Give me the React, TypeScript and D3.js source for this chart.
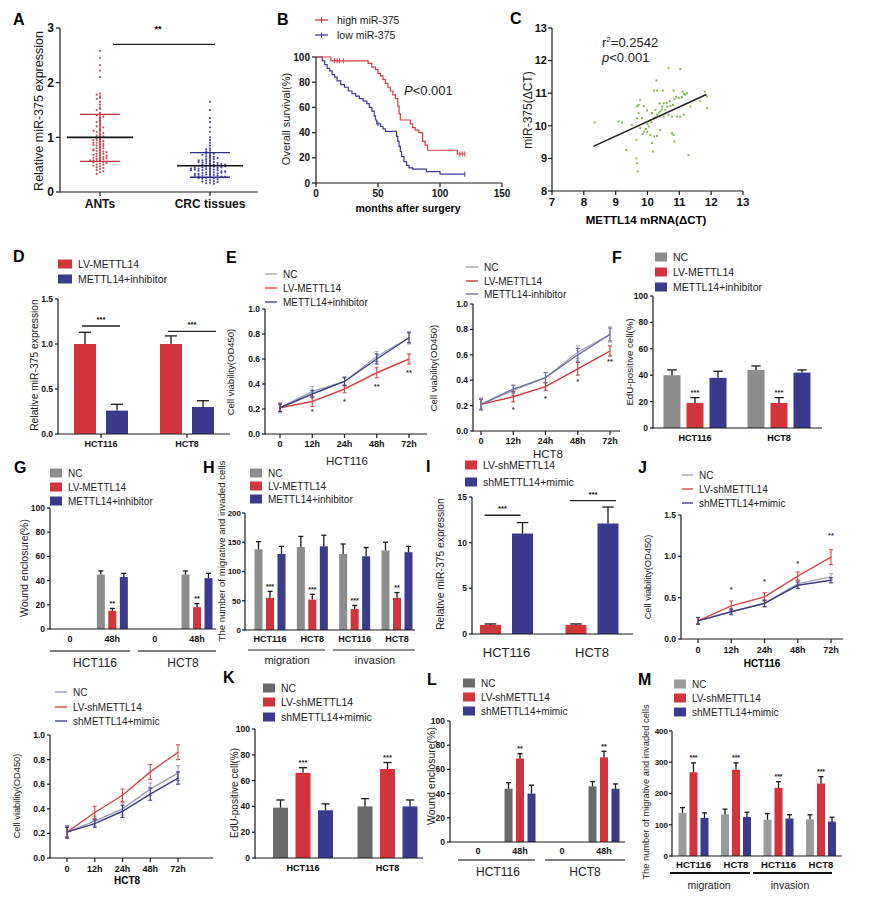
import React from 'react';
import * as d3 from 'd3';

const FONT = "'Liberation Sans', Arial, Helvetica, sans-serif";
const RED = '#d1353b';
const BLUE = '#3b3a8c';
const GRAY = '#8d8d8d';
const DGRAY = '#6b6a6a';
const MGRAY = '#9b9b9b';
const LINE_NC = '#a7a6bf';
const LINE_RED = '#dc4448';
const LINE_NAVY = '#3e4282';
const AX = '#1a1a1a';

// ---------- A ----------
const A_GROUPS = ['ANTs', 'CRC tissues'];
const A_ANTS = [2.58, 2.45, 2.32, 2.22, 2.1, 1.8, 1.78, 1.75, 1.72, 1.7, 1.65, 1.6, 1.55, 1.52, 1.5, 1.45, 1.42, 1.4, 1.38, 1.35, 1.3, 1.28, 1.25, 1.22, 1.2, 1.18, 1.15, 1.12, 1.1, 1.08, 1.05, 1.03, 1.0, 0.98, 0.97, 0.95, 0.93, 0.92, 0.9, 0.88, 0.87, 0.85, 0.84, 0.82, 0.8, 0.8, 0.78, 0.77, 0.75, 0.74, 0.72, 0.7, 0.7, 0.68, 0.67, 0.65, 0.64, 0.63, 0.62, 0.6, 0.6, 0.58, 0.57, 0.56, 0.55, 0.54, 0.53, 0.52, 0.5, 0.5, 0.48, 0.47, 0.45, 0.44, 0.42, 0.4, 0.38, 0.36, 0.33, 0.9, 0.86, 0.76, 0.66, 0.62, 1.02, 1.12, 0.95, 0.73, 0.58];
const A_CRC = [1.65, 1.5, 1.35, 1.28, 1.18, 1.1, 1.0, 0.95, 0.9, 0.85, 0.8, 0.78, 0.76, 0.74, 0.72, 0.7, 0.7, 0.68, 0.66, 0.65, 0.64, 0.62, 0.6, 0.6, 0.58, 0.57, 0.56, 0.55, 0.54, 0.53, 0.52, 0.52, 0.5, 0.5, 0.49, 0.48, 0.47, 0.46, 0.46, 0.45, 0.44, 0.43, 0.42, 0.42, 0.41, 0.4, 0.4, 0.39, 0.38, 0.37, 0.36, 0.36, 0.35, 0.34, 0.33, 0.32, 0.32, 0.31, 0.3, 0.3, 0.29, 0.28, 0.27, 0.26, 0.25, 0.24, 0.23, 0.22, 0.21, 0.2, 0.19, 0.18, 0.17, 0.16, 0.15, 0.62, 0.58, 0.55, 0.51, 0.48, 0.45, 0.44, 0.41, 0.38, 0.35, 0.33, 0.3, 0.28, 0.25, 0.5, 0.47, 0.43, 0.4, 0.37];
const A_MEAN = [1.0, 0.48];
const A_SD_HI = [1.42, 0.72];
const A_SD_LO = [0.56, 0.27];

// ---------- B ----------
const B_HIGH: [number, number][] = [[0, 100], [12, 97], [40, 97], [42, 95], [45, 92], [48, 90], [50, 87], [52, 85], [54, 82], [56, 79], [58, 76], [60, 73], [62, 70], [64, 67], [66, 61], [67, 55], [68, 50], [74, 50], [76, 47], [78, 44], [80, 42], [83, 40], [86, 33], [88, 30], [90, 26], [113, 26], [114, 23], [120, 23]];
const B_LOW: [number, number][] = [[0, 100], [5, 97], [7, 94], [9, 91], [11, 89], [13, 86], [15, 84], [17, 81], [20, 78], [23, 76], [26, 73], [29, 71], [32, 69], [35, 67], [38, 65], [41, 63], [43, 60], [45, 57], [47, 53], [48, 50], [49, 47], [52, 45], [54, 43], [56, 41], [64, 41], [65, 37], [66, 33], [67, 29], [68, 25], [69, 21], [71, 17], [73, 14], [75, 12], [78, 11], [88, 11], [89, 9], [99, 9], [100, 7], [120, 7]];
const B_HIGH_CENS: [number, number][] = [[15, 97], [17, 97], [19, 97], [22, 97], [116, 23], [118, 23], [120, 23]];
const B_LOW_CENS: [number, number][] = [[50, 47], [120, 7]];

// ---------- C ----------
const C_POINTS: [number, number][] = [[8.34, 10.1], [9.09, 10.13], [9.2, 10.1], [9.33, 9.26], [9.51, 10.03], [9.65, 9.57], [9.65, 9.0], [9.67, 8.85], [9.69, 8.6], [9.67, 10.23], [9.72, 10.64], [9.77, 10.8], [9.67, 10.6], [9.88, 10.6], [9.83, 10.23], [9.77, 9.93], [9.9, 9.82], [9.72, 10.39], [9.99, 9.82], [10.04, 9.98], [10.09, 9.72], [10.14, 9.47], [10.17, 9.21], [10.21, 9.67], [10.3, 9.69], [10.2, 10.23], [10.14, 10.39], [10.25, 10.49], [10.3, 10.34], [10.4, 10.44], [10.46, 10.59], [10.38, 10.69], [10.51, 10.69], [10.28, 11.39], [10.21, 11.08], [10.3, 11.08], [10.48, 11.08], [10.66, 11.77], [11.03, 11.74], [10.56, 10.49], [10.62, 10.59], [10.72, 10.61], [10.8, 10.64], [10.85, 10.82], [10.82, 11.08], [10.9, 10.89], [10.98, 10.85], [11.08, 10.88], [11.19, 10.95], [11.24, 11.0], [10.66, 10.34], [10.77, 10.28], [10.93, 10.28], [11.03, 10.28], [11.14, 10.34], [10.77, 9.77], [10.82, 9.72], [10.84, 9.52], [11.35, 10.59], [11.66, 10.75], [11.87, 10.9], [11.87, 10.54], [11.29, 9.1], [10.4, 9.87], [10.51, 10.28], [9.99, 10.47], [10.09, 10.18], [10.0, 10.05], [10.12, 10.12], [10.35, 10.4], [10.45, 10.5], [10.6, 10.7], [10.7, 10.75], [11.1, 11.05], [11.15, 10.98], [9.85, 9.75], [9.95, 9.9], [10.25, 10.25], [11.8, 11.05]];
const C_FIT = [5.65, 0.448]; // intercept, slope
const C_FIT_RANGE = [8.3, 11.85];

// ---------- D ----------
const D_GROUPS = ['HCT116', 'HCT8'];
const D_SERIES = ['LV-METTL14', 'METTL14+inhibitor'];
const D_MEANS = [[1.0, 1.0], [0.26, 0.3]];
const D_ERRS = [[0.13, 0.09], [0.07, 0.07]];
const D_SIG = [1.2, 1.14];

// ---------- E ----------
const TIMES = ['0', '12h', '24h', '48h', '72h'];
const E_SERIES_1 = ['NC', 'LV-METTL14', 'METTL14+inhibitor'];
const E_SERIES_2 = ['NC', 'LV-METTL14', 'METTL14-inhibitor'];
const E1_MEANS = [[0.21, 0.34, 0.42, 0.62, 0.77], [0.21, 0.26, 0.36, 0.49, 0.6], [0.21, 0.32, 0.42, 0.6, 0.77]];
const E1_ERRS = [[0.04, 0.04, 0.04, 0.04, 0.05], [0.03, 0.04, 0.03, 0.04, 0.04], [0.03, 0.03, 0.03, 0.04, 0.04]];
const E1_STARS = ['', '*', '*', '**', '**'];
const E1_STAR_AT = [0, 0.18, 0.265, 0.38, 0.49];
const E2_MEANS = [[0.21, 0.32, 0.42, 0.62, 0.76], [0.21, 0.27, 0.35, 0.49, 0.63], [0.21, 0.33, 0.42, 0.6, 0.76]];
const E2_ERRS = [[0.05, 0.04, 0.04, 0.05, 0.06], [0.04, 0.04, 0.03, 0.05, 0.04], [0.04, 0.03, 0.04, 0.05, 0.05]];
const E2_STARS = ['', '*', '*', '*', '**'];
const E2_STAR_AT = [0, 0.17, 0.26, 0.39, 0.55];

// ---------- F ----------
const F_SERIES = ['NC', 'LV-METTL14', 'METTL14+inhibitor'];
const F_MEANS = [[40, 44], [19, 19], [38, 42]];
const F_ERRS = [[4, 3], [4, 4], [5, 2]];
const F_STARS = ['***', '***'];

// ---------- G ----------
const G_CATS = ['0', '48h', '0', '48h'];
const G_CELLS = ['HCT116', 'HCT8'];
const G_MEANS = [[0, 45, 0, 45], [0, 15, 0, 18], [0, 43, 0, 42]];
const G_ERRS = [[0, 3, 0, 3], [0, 2, 0, 3], [0, 3, 0, 4]];
const G_STARS = ['', '**', '', '**'];

// ---------- H ----------
const H_CATS = ['HCT116', 'HCT8', 'HCT116', 'HCT8'];
const H_GROUPS = ['migration', 'invasion'];
const H_MEANS = [[138, 142, 130, 136], [55, 52, 36, 55], [130, 143, 126, 133]];
const H_ERRS = [[13, 18, 17, 14], [11, 9, 6, 9], [13, 19, 15, 10]];
const H_STARS = ['***', '***', '***', '**'];

// ---------- I ----------
const I_SERIES = ['LV-shMETTL14', 'shMETTL14+mimic'];
const I_MEANS = [[1.0, 1.0], [11.0, 12.1]];
const I_ERRS = [[0.1, 0.1], [1.2, 1.8]];
const I_SIG = [13.0, 14.6];

// ---------- J ----------
const J_SERIES = ['NC', 'LV-shMETTL14', 'shMETTL14+mimic'];
const J1_MEANS = [[0.22, 0.33, 0.43, 0.67, 0.75], [0.22, 0.4, 0.51, 0.76, 0.99], [0.22, 0.33, 0.43, 0.65, 0.71]];
const J1_ERRS = [[0.04, 0.04, 0.04, 0.04, 0.04], [0.04, 0.06, 0.05, 0.05, 0.09], [0.04, 0.03, 0.04, 0.04, 0.03]];
const J1_STARS = ['', '*', '*', '*', '**'];
const J1_STAR_AT = [0, 0.6, 0.7, 0.92, 1.25];
const J2_MEANS = [[0.21, 0.3, 0.4, 0.56, 0.69], [0.21, 0.37, 0.51, 0.7, 0.86], [0.21, 0.28, 0.38, 0.52, 0.65]];
const J2_ERRS = [[0.05, 0.04, 0.05, 0.05, 0.06], [0.05, 0.05, 0.05, 0.06, 0.06], [0.04, 0.03, 0.05, 0.05, 0.05]];

// ---------- K ----------
const K_SERIES = ['NC', 'LV-shMETTL14', 'shMETTL14+mimic'];
const K_MEANS = [[39, 40], [66, 69], [37, 40]];
const K_ERRS = [[6, 6], [4, 5], [5, 5]];
const K_STARS = ['***', '***'];

// ---------- L ----------
const L_MEANS = [[0, 44, 0, 46], [0, 69, 0, 70], [0, 40, 0, 44]];
const L_ERRS = [[0, 5, 0, 4], [0, 4, 0, 5], [0, 7, 0, 4]];
const L_STARS = ['', '**', '', '**'];

// ---------- M ----------
const M_MEANS = [[138, 133, 116, 117], [268, 276, 218, 232], [122, 125, 120, 110]];
const M_ERRS = [[17, 17, 20, 15], [30, 22, 20, 22], [16, 15, 12, 14]];
const M_STARS = ['***', '***', '***', '***'];

// ================= helpers =================
function Letter({ x, y, t }: any) {
  return <text x={x} y={y} fontSize={16} fontWeight="bold" fill="#000">{t}</text>;
}

function VLabel({ x, y, t, fs }: any) {
  return (
    <text transform={`translate(${x},${y}) rotate(-90)`} textAnchor="middle" dominantBaseline="central" fontSize={fs} fill="#222">{t}</text>
  );
}

function YAxis({ x, y, ticks, fmt, fs = 8.5, tl = 3, gap = 2 }: any) {
  const d = y.domain();
  return (
    <g>
      <line x1={x} x2={x} y1={y(d[0]) + 0.6} y2={y(d[1])} stroke={AX} strokeWidth={1.2} />
      {ticks.map((t: number) => (
        <g key={t}>
          <line x1={x - tl} x2={x} y1={y(t)} y2={y(t)} stroke={AX} strokeWidth={1.2} />
          <text x={x - tl - gap} y={y(t)} dy="0.35em" textAnchor="end" fontSize={fs} fontWeight="bold" fill="#111">{fmt(t)}</text>
        </g>
      ))}
    </g>
  );
}

function XAxis({ y0, x0, x1, xs, labels, fs = 9, dy = 12, bold = true, tick = 4 }: any) {
  return (
    <g>
      <line x1={x0} x2={x1} y1={y0} y2={y0} stroke={AX} strokeWidth={1.2} />
      {xs.map((xx: number, i: number) => (
        <g key={i}>
          {tick > 0 && <line x1={xx} x2={xx} y1={y0} y2={y0 + tick} stroke={AX} strokeWidth={1.2} />}
          {labels && <text x={xx} y={y0 + dy} textAnchor="middle" fontSize={fs} fontWeight={bold ? 'bold' : 'normal'} fill="#111">{labels[i]}</text>}
        </g>
      ))}
    </g>
  );
}

function Legend({ x, ys, labels, colors, kind, fs = 10, w = 12, h = 9 }: any) {
  return (
    <g>
      {labels.map((l: string, i: number) => (
        <g key={i}>
          {kind === 'rect'
            ? <rect x={x} y={ys[i] - h / 2} width={w} height={h} fill={colors[i]} />
            : <line x1={x} x2={x + w} y1={ys[i]} y2={ys[i]} stroke={colors[i]} strokeWidth={1.4} />}
          <text x={x + w + 6} y={ys[i]} dy="0.35em" fontSize={fs} fill="#222">{l}</text>
        </g>
      ))}
    </g>
  );
}

function BarSet({ cx, y, means, errs, colors, width, step, stars, starIdx = 1, starFs = 7.5 }: any) {
  const n = means.length;
  const pad = 1 - width / step;
  const inner = d3.scaleBand<number>().domain(d3.range(n)).range([-n * step / 2, n * step / 2]).paddingInner(pad).paddingOuter(pad / 2);
  const bw = inner.bandwidth();
  const out: any[] = [];
  means.forEach((ser: number[], s: number) => {
    ser.forEach((m: number, c: number) => {
      if (!m) return;
      const x0 = cx(c) + (inner(s) as number);
      const xm = x0 + bw / 2;
      const e = errs[s][c];
      const cap = Math.max(5, bw * 0.55);
      out.push(<rect key={`b${s}-${c}`} x={x0} y={y(m)} width={bw} height={y(0) - y(m)} fill={colors[s]} />);
      if (e) {
        out.push(<line key={`e${s}-${c}`} x1={xm} x2={xm} y1={y(m)} y2={y(m + e)} stroke={AX} strokeWidth={1.3} />);
        out.push(<line key={`c${s}-${c}`} x1={xm - cap / 2} x2={xm + cap / 2} y1={y(m + e)} y2={y(m + e)} stroke={AX} strokeWidth={1.3} />);
      }
      if (stars && s === starIdx && stars[c]) {
        out.push(<text key={`s${s}-${c}`} x={xm} y={y(m + e) - 2.5} textAnchor="middle" fontSize={starFs} fontWeight="bold" fill="#222">{stars[c]}</text>);
      }
    });
  });
  return <g>{out}</g>;
}

function barCenter(cx: any, n: number, step: number, s: number, c: number) {
  return cx(c) + (s - (n - 1) / 2) * step;
}

function LineSet({ x, y, means, errs, colors }: any) {
  const gen = d3.line<number>().x((_, i) => x(i)).y(d => y(d));
  return (
    <g>
      {means.map((ser: number[], s: number) => (
        <g key={s}>
          <path d={gen(ser) as string} fill="none" stroke={colors[s]} strokeWidth={1.4} />
          {ser.map((m: number, i: number) => {
            const e = errs[s][i];
            const xi = x(i);
            return (
              <g key={i}>
                <line x1={xi} x2={xi} y1={y(m - e)} y2={y(m + e)} stroke={colors[s]} strokeWidth={1.1} />
                <line x1={xi - 2} x2={xi + 2} y1={y(m + e)} y2={y(m + e)} stroke={colors[s]} strokeWidth={1.1} />
                <line x1={xi - 2} x2={xi + 2} y1={y(m - e)} y2={y(m - e)} stroke={colors[s]} strokeWidth={1.1} />
              </g>
            );
          })}
        </g>
      ))}
    </g>
  );
}

function Stars({ x, y, stars, at, fs = 8 }: any) {
  return (
    <g>
      {stars.map((s: string, i: number) => s ? <text key={i} x={x(i)} y={y(at[i])} dy="0.35em" textAnchor="middle" fontSize={fs} fontWeight="bold" fill="#333">{s}</text> : null)}
    </g>
  );
}

function swarm(vals: number[], bin: number, spacing: number) {
  const counts = new Map<number, number>();
  return vals.map(v => {
    const b = Math.round(v / bin);
    const k = counts.get(b) ?? 0;
    counts.set(b, k + 1);
    const off = k === 0 ? 0 : (k % 2 ? -1 : 1) * Math.ceil(k / 2) * spacing;
    return { v, off };
  });
}

const fmt1 = d3.format('.1f');
const fmtD = d3.format('d');

// ================= panels =================
function PanelA() {
  const y = d3.scaleLinear().domain([0, 3]).range([192, 28]);
  const x = d3.scalePoint<string>().domain(A_GROUPS).range([100, 210]);
  const sets = [A_ANTS, A_CRC];
  const spacings = [3.3, 3.8];
  const dotCols = ['#d0505a', '#4a4aa6'];
  const lineCols = ['#b8323e', '#2f2f86'];
  return (
    <g>
      <Letter x={13} y={25} t="A" />
      {sets.map((vals, gi) => swarm(vals, 0.05, spacings[gi]).map((p, i) => (
        <circle key={gi + '-' + i} cx={(x(A_GROUPS[gi]) as number) + p.off} cy={y(p.v)} r={1.1} fill={dotCols[gi]} />
      )))}
      {A_GROUPS.map((g, gi) => {
        const c = x(g) as number;
        return (
          <g key={g}>
            <line x1={c} x2={c} y1={y(A_SD_LO[gi])} y2={y(A_SD_HI[gi])} stroke={lineCols[gi]} strokeWidth={1.2} />
            <line x1={c - 20} x2={c + 20} y1={y(A_SD_HI[gi])} y2={y(A_SD_HI[gi])} stroke={lineCols[gi]} strokeWidth={1.4} />
            <line x1={c - 20} x2={c + 20} y1={y(A_SD_LO[gi])} y2={y(A_SD_LO[gi])} stroke={lineCols[gi]} strokeWidth={1.4} />
            <line x1={c - 33} x2={c + 33} y1={y(A_MEAN[gi])} y2={y(A_MEAN[gi])} stroke="#111" strokeWidth={1.6} />
          </g>
        );
      })}
      <YAxis x={60} y={y} ticks={[0, 1, 2, 3]} fmt={fmtD} fs={12} tl={4} gap={2} />
      <XAxis y0={192} x0={60} x1={258} xs={A_GROUPS.map(g => x(g))} labels={A_GROUPS} fs={12} dy={16} />
      <line x1={113} x2={215} y1={y(2.7)} y2={y(2.7)} stroke="#222" strokeWidth={1.4} />
      <text x={158} y={y(2.7) - 12} textAnchor="middle" fontSize={9} fontWeight="bold">**</text>
      <VLabel x={39} y={111} t="Relative miR-375 expression" fs={12.5} />
    </g>
  );
}

function PanelB() {
  const x = d3.scaleLinear().domain([0, 150]).range([316, 502]);
  const y = d3.scaleLinear().domain([0, 100]).range([183, 57]);
  const gen = d3.line<[number, number]>().x(d => x(d[0])).y(d => y(d[1])).curve(d3.curveStepAfter);
  const hc = '#d23b40';
  const lc = '#3e3d92';
  const cens = (pts: [number, number][], col: string) => pts.map((p, i) => (
    <line key={i} x1={x(p[0])} x2={x(p[0])} y1={y(p[1]) - 2.5} y2={y(p[1]) + 2.5} stroke={col} strokeWidth={1} />
  ));
  return (
    <g>
      <Letter x={277} y={25} t="B" />
      <g>
        <line x1={315} x2={328} y1={20} y2={20} stroke={hc} strokeWidth={1.3} />
        <line x1={321.5} x2={321.5} y1={17.5} y2={22.5} stroke={hc} strokeWidth={1} />
        <text x={337} y={20} dy="0.35em" fontSize={10.5} fill="#222">high miR-375</text>
        <line x1={315} x2={328} y1={35} y2={35} stroke={lc} strokeWidth={1.3} />
        <line x1={321.5} x2={321.5} y1={32.5} y2={37.5} stroke={lc} strokeWidth={1} />
        <text x={337} y={35} dy="0.35em" fontSize={10.5} fill="#222">low miR-375</text>
      </g>
      <path d={gen(B_LOW) as string} fill="none" stroke={lc} strokeWidth={1.2} />
      <path d={gen(B_HIGH) as string} fill="none" stroke={hc} strokeWidth={1.2} />
      {cens(B_HIGH_CENS, hc)}
      {cens(B_LOW_CENS, lc)}
      <YAxis x={316} y={y} ticks={[0, 20, 40, 60, 80, 100]} fmt={fmtD} fs={10} tl={4} />
      <XAxis y0={183} x0={316} x1={502} xs={[0, 50, 100, 150].map(v => x(v))} labels={['0', '50', '100', '150']} fs={10} dy={14} />
      <text x={408} y={212} textAnchor="middle" fontSize={10.5} fontWeight="bold">months after surgery</text>
      <VLabel x={286} y={119} t="Overall survival(%)" fs={11} />
      <text x={404} y={95} fontSize={13} fill="#222"><tspan fontStyle="italic">P</tspan>{'<0.001'}</text>
    </g>
  );
}

function PanelC() {
  const x = d3.scaleLinear().domain([7, 13]).range([552, 743]);
  const y = d3.scaleLinear().domain([8, 13]).range([191, 28]);
  const f = (v: number) => C_FIT[0] + C_FIT[1] * v;
  return (
    <g>
      <Letter x={510} y={24} t="C" />
      {C_POINTS.map((p, i) => (
        <rect key={i} x={x(p[0]) - 1} y={y(p[1]) - 1} width={2} height={2} fill="#86b856" />
      ))}
      <line x1={x(C_FIT_RANGE[0])} x2={x(C_FIT_RANGE[1])} y1={y(f(C_FIT_RANGE[0]))} y2={y(f(C_FIT_RANGE[1]))} stroke="#222" strokeWidth={1.6} />
      <YAxis x={552} y={y} ticks={[8, 9, 10, 11, 12, 13]} fmt={fmtD} fs={11} tl={4} gap={1} />
      <XAxis y0={191} x0={552} x1={743} xs={[7, 8, 9, 10, 11, 12, 13].map(v => x(v))} labels={['7', '8', '9', '10', '11', '12', '13']} fs={11.5} dy={15} />
      <text x={646} y={224} textAnchor="middle" fontSize={11.5} fontWeight="bold">METTL14 mRNA(ΔCT)</text>
      <VLabel x={528} y={110} t="miR-375(ΔCT)" fs={12} />
      <text x={602} y={47} fontSize={13} fill="#222">r<tspan dy={-5} fontSize={8}>2</tspan><tspan dy={5}>=0.2542</tspan></text>
      <text x={602} y={62} fontSize={13} fill="#222"><tspan fontStyle="italic">p</tspan>{'<0.001'}</text>
    </g>
  );
}

function PanelD() {
  const y = d3.scaleLinear().domain([0, 1.5]).range([434, 299]);
  const cx = d3.scalePoint<number>().domain([0, 1]).range([101, 187]);
  const step = 32;
  return (
    <g>
      <Letter x={13} y={262} t="D" />
      <Legend x={58} ys={[264, 279]} labels={D_SERIES} colors={[RED, BLUE]} kind="rect" fs={10.5} w={14} h={9} />
      <BarSet cx={cx} y={y} means={D_MEANS} errs={D_ERRS} colors={[RED, BLUE]} width={22} step={step} />
      {D_SIG.map((lv, c) => {
        const xa = barCenter(cx, 2, step, 0, c) - 3;
        const xb = barCenter(cx, 2, step, 1, c) + 3 + (c === 1 ? 10 : 0);
        return (
          <g key={c}>
            <line x1={xa} x2={xb} y1={y(lv)} y2={y(lv)} stroke="#222" strokeWidth={1.3} />
            <text x={(xa + xb) / 2} y={y(lv) - 4} textAnchor="middle" fontSize={7.5} fontWeight="bold">***</text>
          </g>
        );
      })}
      <YAxis x={58} y={y} ticks={[0, 0.5, 1, 1.5]} fmt={fmt1} />
      <XAxis y0={434} x0={58} x1={230} xs={[0, 1].map(i => cx(i))} labels={D_GROUPS} fs={9} dy={13} />
      <VLabel x={34} y={365} t="Relative miR-375 expression" fs={10.3} />
    </g>
  );
}

function PanelE() {
  const y1 = d3.scaleLinear().domain([0, 1]).range([434, 309]);
  const x1 = d3.scalePoint<number>().domain(d3.range(5)).range([280, 409]);
  const y2 = d3.scaleLinear().domain([0, 1]).range([431, 304]);
  const x2 = d3.scalePoint<number>().domain(d3.range(5)).range([481, 610]);
  const cols1 = [LINE_NC, LINE_RED, LINE_NAVY];
  const cols2 = ['#a9a9a9', '#c8383c', '#6f72a6'];
  return (
    <g>
      <Letter x={226} y={263} t="E" />
      <Legend x={265} ys={[274, 288, 302]} labels={E_SERIES_1} colors={cols1} kind="line" fs={10} w={12} />
      <LineSet x={x1} y={y1} means={E1_MEANS} errs={E1_ERRS} colors={cols1} />
      <Stars x={x1} y={y1} stars={E1_STARS} at={E1_STAR_AT} fs={7.5} />
      <YAxis x={265} y={y1} ticks={[0, 0.2, 0.4, 0.6, 0.8, 1]} fmt={fmt1} />
      <XAxis y0={434} x0={265} x1={427} xs={d3.range(5).map(i => x1(i))} labels={TIMES} fs={9} dy={13} />
      <text x={347} y={465} textAnchor="middle" fontSize={11.5} fill="#222">HCT116</text>
      <VLabel x={230} y={372} t="Cell viability(OD450)" fs={9.5} />

      <Legend x={466} ys={[267, 281, 294]} labels={E_SERIES_2} colors={cols2} kind="line" fs={10} w={12} />
      <LineSet x={x2} y={y2} means={E2_MEANS} errs={E2_ERRS} colors={cols2} />
      <Stars x={x2} y={y2} stars={E2_STARS} at={E2_STAR_AT} fs={7.5} />
      <YAxis x={473} y={y2} ticks={[0, 0.2, 0.4, 0.6, 0.8, 1]} fmt={fmt1} />
      <XAxis y0={431} x0={473} x1={620} xs={d3.range(5).map(i => x2(i))} labels={TIMES} fs={9} dy={13} />
      <text x={548} y={458} textAnchor="middle" fontSize={11.5} fill="#222">HCT8</text>
      <VLabel x={433} y={368} t="Cell viability(OD450)" fs={9.5} />
    </g>
  );
}

function PanelF() {
  const y = d3.scaleLinear().domain([0, 100]).range([428, 296]);
  const cx = d3.scalePoint<number>().domain([0, 1]).range([695, 779]);
  return (
    <g>
      <Letter x={612} y={263} t="F" />
      <Legend x={655} ys={[257, 272, 287]} labels={F_SERIES} colors={[GRAY, RED, BLUE]} kind="rect" fs={10.5} w={12} h={9} />
      <BarSet cx={cx} y={y} means={F_MEANS} errs={F_ERRS} colors={[GRAY, RED, BLUE]} width={17} step={23} stars={F_STARS} />
      <YAxis x={653} y={y} ticks={[0, 20, 40, 60, 80, 100]} fmt={fmtD} />
      <XAxis y0={428} x0={653} x1={822} xs={[]} labels={null} />
      {D_GROUPS.map((g, i) => <text key={g} x={cx(i)} y={441} textAnchor="middle" fontSize={9} fontWeight="bold">{g}</text>)}
      <VLabel x={629} y={362} t="EdU-positive cell(%)" fs={9.7} />
    </g>
  );
}

function PanelG() {
  const y = d3.scaleLinear().domain([0, 100]).range([629, 508]);
  const cx = d3.scalePoint<number>().domain(d3.range(4)).range([70, 197]);
  return (
    <g>
      <Letter x={14} y={473} t="G" />
      <Legend x={50} ys={[473, 487, 501]} labels={F_SERIES} colors={[GRAY, RED, BLUE]} kind="rect" fs={10} w={12} h={9} />
      <BarSet cx={cx} y={y} means={G_MEANS} errs={G_ERRS} colors={[GRAY, RED, BLUE]} width={8} step={11.5} stars={G_STARS} starFs={7} />
      <YAxis x={50} y={y} ticks={[0, 20, 40, 60, 80, 100]} fmt={fmtD} />
      <XAxis y0={629} x0={50} x1={216} xs={d3.range(4).map(i => cx(i))} labels={G_CATS} fs={9} dy={13} tick={0} />
      <line x1={50} x2={130} y1={651} y2={651} stroke="#555" strokeWidth={1.5} />
      <line x1={138} x2={216} y1={651} y2={651} stroke="#555" strokeWidth={1.5} />
      <text x={95} y={667} textAnchor="middle" fontSize={12} fill="#222">{G_CELLS[0]}</text>
      <text x={183} y={667} textAnchor="middle" fontSize={12} fill="#222">{G_CELLS[1]}</text>
      <VLabel x={24} y={568} t="Wound enclosure(%)" fs={10.5} />
    </g>
  );
}

function PanelH() {
  const y = d3.scaleLinear().domain([0, 200]).range([630, 513]);
  const cx = d3.scalePoint<number>().domain(d3.range(4)).range([270, 397]);
  return (
    <g>
      <Letter x={203} y={473} t="H" />
      <Legend x={250} ys={[473, 486, 499]} labels={F_SERIES} colors={[GRAY, RED, BLUE]} kind="rect" fs={10} w={12} h={9} />
      <BarSet cx={cx} y={y} means={H_MEANS} errs={H_ERRS} colors={[GRAY, RED, BLUE]} width={8} step={11.5} stars={H_STARS} starFs={7} />
      <YAxis x={245} y={y} ticks={[0, 50, 100, 150, 200]} fmt={fmtD} fs={8} tl={3} gap={1} />
      <XAxis y0={630} x0={245} x1={415} xs={d3.range(4).map(i => cx(i))} labels={H_CATS} fs={9} dy={12} tick={0} />
      <line x1={248} x2={325} y1={650} y2={650} stroke="#222" strokeWidth={1.2} />
      <line x1={333} x2={415} y1={650} y2={650} stroke="#222" strokeWidth={1.2} />
      <text x={287} y={664} textAnchor="middle" fontSize={11} fill="#222">{H_GROUPS[0]}</text>
      <text x={375} y={664} textAnchor="middle" fontSize={11} fill="#222">{H_GROUPS[1]}</text>
      <VLabel x={221} y={551} t="The number of migrative and invaded cells" fs={9.6} />
    </g>
  );
}

function PanelI() {
  const y = d3.scaleLinear().domain([0, 15]).range([634, 497]);
  const cx = d3.scalePoint<number>().domain([0, 1]).range([506.5, 592]);
  const step = 32;
  return (
    <g>
      <Letter x={426} y={472} t="I" />
      <Legend x={465} ys={[465, 482]} labels={I_SERIES} colors={[RED, BLUE]} kind="rect" fs={10.5} w={12} h={9} />
      <BarSet cx={cx} y={y} means={I_MEANS} errs={I_ERRS} colors={[RED, BLUE]} width={21} step={step} />
      {I_SIG.map((lv, c) => {
        const xa = barCenter(cx, 2, step, 0, c) - 6;
        const xb = barCenter(cx, 2, step, 1, c) - 2 + (c === 1 ? 10 : 0);
        return (
          <g key={c}>
            <line x1={xa} x2={xb} y1={y(lv)} y2={y(lv)} stroke="#222" strokeWidth={1.3} />
            <text x={(xa + xb) / 2} y={y(lv) - 4} textAnchor="middle" fontSize={7.5} fontWeight="bold">***</text>
          </g>
        );
      })}
      <YAxis x={472} y={y} ticks={[0, 5, 10, 15]} fmt={fmtD} />
      <XAxis y0={634} x0={472} x1={633} xs={[]} labels={null} />
      {D_GROUPS.map((g, i) => <text key={g} x={cx(i)} y={657} textAnchor="middle" fontSize={13} fill="#222">{g}</text>)}
      <VLabel x={440} y={564} t="Relative miR-375 expression" fs={10.3} />
    </g>
  );
}

function PanelJ() {
  const y = d3.scaleLinear().domain([0, 1.5]).range([639, 515]);
  const x = d3.scalePoint<number>().domain(d3.range(5)).range([698, 831]);
  const cols = ['#a6a6be', '#dc4448', '#3c3f7c'];
  const y2 = d3.scaleLinear().domain([0, 1]).range([858, 735]);
  const x2 = d3.scalePoint<number>().domain(d3.range(5)).range([67, 178]);
  const cols2 = ['#9a9ab5', '#d2474b', '#3b3f85'];
  return (
    <g>
      <Letter x={638} y={473} t="J" />
      <Legend x={682} ys={[475, 489, 503]} labels={J_SERIES} colors={cols} kind="line" fs={10} w={11} />
      <LineSet x={x} y={y} means={J1_MEANS} errs={J1_ERRS} colors={cols} />
      <Stars x={x} y={y} stars={J1_STARS} at={J1_STAR_AT} fs={7.5} />
      <YAxis x={681} y={y} ticks={[0, 0.5, 1, 1.5]} fmt={fmt1} />
      <XAxis y0={639} x0={681} x1={843} xs={d3.range(5).map(i => x(i))} labels={TIMES} fs={9} dy={14} />
      <text x={762} y={667} textAnchor="middle" fontSize={10} fontWeight="bold">HCT116</text>
      <VLabel x={648} y={577} t="Cell viability(OD450)" fs={9.3} />

      <Legend x={55} ys={[692, 707, 721]} labels={J_SERIES} colors={cols2} kind="line" fs={10} w={12} />
      <LineSet x={x2} y={y2} means={J2_MEANS} errs={J2_ERRS} colors={cols2} />
      <YAxis x={50} y={y2} ticks={[0, 0.2, 0.4, 0.6, 0.8, 1]} fmt={fmt1} />
      <XAxis y0={858} x0={50} x1={213} xs={d3.range(5).map(i => x2(i))} labels={TIMES} fs={9} dy={14} />
      <text x={127} y={884} textAnchor="middle" fontSize={10} fontWeight="bold">HCT8</text>
      <VLabel x={17} y={796} t="Cell viability(OD450)" fs={9.3} />
    </g>
  );
}

function PanelK() {
  const y = d3.scaleLinear().domain([0, 100]).range([858, 729]);
  const cx = d3.scalePoint<number>().domain([0, 1]).range([303, 387.5]);
  return (
    <g>
      <Letter x={223} y={683} t="K" />
      <Legend x={263} ys={[688, 702, 717]} labels={K_SERIES} colors={[DGRAY, RED, BLUE]} kind="rect" fs={10.5} w={12} h={9} />
      <BarSet cx={cx} y={y} means={K_MEANS} errs={K_ERRS} colors={[DGRAY, RED, BLUE]} width={15} step={22.5} stars={K_STARS} />
      <YAxis x={255} y={y} ticks={[0, 20, 40, 60, 80, 100]} fmt={fmtD} />
      <XAxis y0={858} x0={255} x1={423} xs={[]} labels={null} />
      {D_GROUPS.map((g, i) => <text key={g} x={cx(i)} y={871} textAnchor="middle" fontSize={9} fontWeight="bold">{g}</text>)}
      <VLabel x={234} y={793} t="EdU-positive cell(%)" fs={10} />
    </g>
  );
}

function PanelL() {
  const y = d3.scaleLinear().domain([0, 100]).range([842, 721]);
  const cx = d3.scalePoint<number>().domain(d3.range(4)).range([478, 604]);
  return (
    <g>
      <Letter x={427} y={685} t="L" />
      <Legend x={463} ys={[683, 697, 711]} labels={K_SERIES} colors={[DGRAY, RED, BLUE]} kind="rect" fs={10} w={12} h={9} />
      <BarSet cx={cx} y={y} means={L_MEANS} errs={L_ERRS} colors={[DGRAY, RED, BLUE]} width={8} step={11.5} stars={L_STARS} starFs={7} />
      <YAxis x={450} y={y} ticks={[0, 20, 40, 60, 80, 100]} fmt={fmtD} />
      <XAxis y0={842} x0={450} x1={625} xs={d3.range(4).map(i => cx(i))} labels={G_CATS} fs={9} dy={12} tick={0} />
      <line x1={458} x2={535} y1={860} y2={860} stroke="#555" strokeWidth={1.5} />
      <line x1={545} x2={625} y1={860} y2={860} stroke="#555" strokeWidth={1.5} />
      <text x={498} y={876} textAnchor="middle" fontSize={12} fill="#222">{G_CELLS[0]}</text>
      <text x={585} y={876} textAnchor="middle" fontSize={12} fill="#222">{G_CELLS[1]}</text>
      <VLabel x={431} y={776} t="Wound enclosure(%)" fs={10.5} />
    </g>
  );
}

function PanelM() {
  const y = d3.scaleLinear().domain([0, 400]).range([856, 731]);
  const cx = d3.scalePoint<number>().domain(d3.range(4)).range([693.5, 821]);
  return (
    <g>
      <Letter x={638} y={685} t="M" />
      <Legend x={674} ys={[684, 698, 712]} labels={K_SERIES} colors={[MGRAY, RED, BLUE]} kind="rect" fs={10} w={12} h={9} />
      <BarSet cx={cx} y={y} means={M_MEANS} errs={M_ERRS} colors={[MGRAY, RED, BLUE]} width={8} step={11} stars={M_STARS} starFs={7} />
      <YAxis x={672} y={y} ticks={[0, 100, 200, 300, 400]} fmt={fmtD} fs={8} tl={3} gap={1} />
      <XAxis y0={856} x0={672} x1={842} xs={d3.range(4).map(i => cx(i))} labels={H_CATS} fs={9.5} dy={12} tick={0} />
      <line x1={670} x2={750} y1={873} y2={873} stroke="#111" strokeWidth={2} />
      <line x1={753} x2={832} y1={873} y2={873} stroke="#111" strokeWidth={2} />
      <text x={709} y={889} textAnchor="middle" fontSize={10.5} fill="#222">{H_GROUPS[0]}</text>
      <text x={790} y={889} textAnchor="middle" fontSize={10.5} fill="#222">{H_GROUPS[1]}</text>
      <VLabel x={646} y={792} t="The number of migrative and invaded cells" fs={9.3} />
    </g>
  );
}

export default function App() {
  React.useEffect(() => {
    document.body.style.margin = '0';
  }, []);
  return (
    <svg width={880} height={900} style={{ position: 'absolute', left: 0, top: 0, display: 'block', fontFamily: FONT }}>
      <rect x={0} y={0} width={880} height={900} fill="#fff" />
      <PanelA />
      <PanelB />
      <PanelC />
      <PanelD />
      <PanelE />
      <PanelF />
      <PanelG />
      <PanelH />
      <PanelI />
      <PanelJ />
      <PanelK />
      <PanelL />
      <PanelM />
    </svg>
  );
}
